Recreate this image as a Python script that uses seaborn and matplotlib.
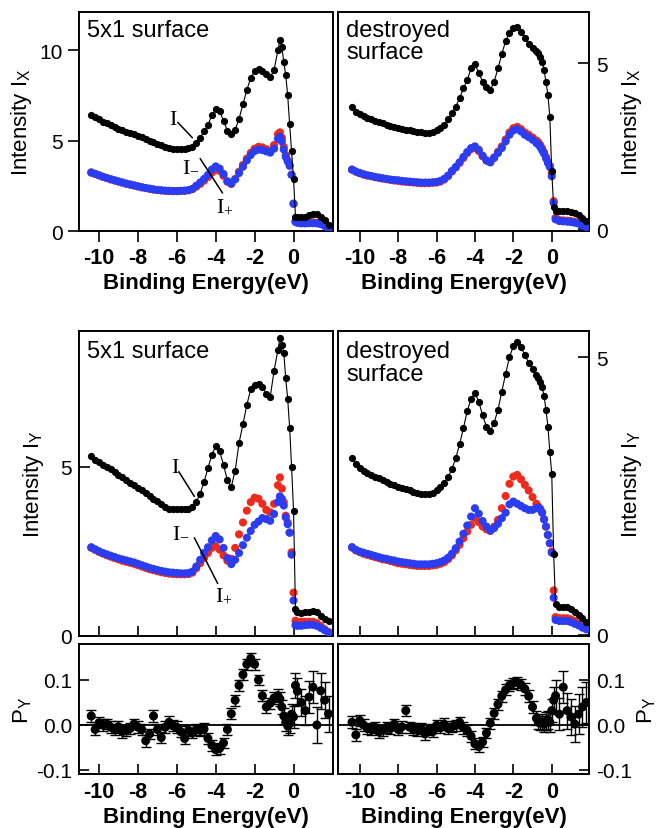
import numpy as np
import pandas as pd
import matplotlib
matplotlib.use("Agg")
import matplotlib.pyplot as plt
import seaborn as sns

# ---------------- data ----------------
E = [-10.4, -10.2, -10.0, -9.8, -9.6, -9.4, -9.2, -9.0, -8.8, -8.6,
     -8.4, -8.2, -8.0, -7.8, -7.6, -7.4, -7.2, -7.0, -6.8, -6.6,
     -6.4, -6.2, -6.0, -5.8, -5.6, -5.4, -5.2, -5.0, -4.8, -4.6,
     -4.4, -4.2, -4.0, -3.8, -3.6, -3.4, -3.2, -3.0, -2.8, -2.6,
     -2.4, -2.2, -2.0, -1.8, -1.6, -1.4, -1.2, -1.0, -0.8,
     -0.7, -0.6, -0.5, -0.4, -0.3, -0.2, -0.1, 0.0, 0.1, 0.2,
     0.4, 0.6, 0.8, 1.0, 1.2, 1.4, 1.6, 1.8]

# top-left: 5x1 surface, I_X
x51_I = [6.42, 6.30, 6.17, 6.05, 5.95, 5.85, 5.75, 5.65, 5.57, 5.49,
         5.42, 5.35, 5.27, 5.18, 5.10, 5.00, 4.92, 4.83, 4.74, 4.66,
         4.58, 4.55, 4.53, 4.53, 4.55, 4.58, 4.65, 4.85, 5.15, 5.50,
         5.85, 6.40, 6.72, 6.62, 6.10, 5.55, 5.35, 5.60, 6.20, 7.00,
         7.80, 8.45, 8.85, 8.95, 8.85, 8.65, 8.50, 8.90, 10.00,
         10.55, 10.15, 9.35, 8.60, 7.50, 5.90, 4.40, 2.90, 0.80, 0.75,
         0.75, 0.80, 0.88, 0.95, 0.95, 0.80, 0.60, 0.35]
x51_Im = [3.22, 3.15, 3.07, 2.99, 2.92, 2.85, 2.79, 2.73, 2.67, 2.61,
          2.56, 2.51, 2.46, 2.41, 2.37, 2.33, 2.29, 2.26, 2.24, 2.22,
          2.21, 2.20, 2.20, 2.21, 2.22, 2.25, 2.31, 2.45, 2.60, 2.78,
          2.98, 3.22, 3.38, 3.32, 3.05, 2.72, 2.60, 2.88, 3.28, 3.65,
          4.00, 4.32, 4.55, 4.65, 4.62, 4.52, 4.42, 4.75, 5.35,
          5.45, 5.15, 4.65, 4.20, 3.90, 3.65, 3.12, 1.52, 0.55, 0.50,
          0.48, 0.48, 0.48, 0.48, 0.46, 0.40, 0.30, 0.17]
x51_Ip = [3.24, 3.16, 3.08, 3.00, 2.93, 2.86, 2.80, 2.74, 2.68, 2.62,
          2.57, 2.52, 2.47, 2.42, 2.38, 2.34, 2.30, 2.27, 2.25, 2.23,
          2.22, 2.21, 2.21, 2.22, 2.23, 2.26, 2.33, 2.50, 2.68, 2.88,
          3.10, 3.40, 3.57, 3.45, 3.15, 2.75, 2.62, 2.85, 3.20, 3.55,
          3.90, 4.20, 4.42, 4.50, 4.47, 4.40, 4.33, 4.55, 5.10,
          5.20, 4.95, 4.50, 4.10, 3.85, 3.60, 3.10, 1.50, 0.50, 0.45,
          0.42, 0.42, 0.43, 0.43, 0.42, 0.38, 0.28, 0.15]

# top-right: destroyed surface, I_X
xd_I = [3.68, 3.55, 3.47, 3.42, 3.37, 3.32, 3.28, 3.24, 3.20, 3.15,
        3.12, 3.09, 3.06, 3.03, 3.00, 2.98, 2.96, 2.94, 2.93, 2.91,
        2.91, 2.93, 2.98, 3.05, 3.15, 3.32, 3.50, 3.70, 3.95, 4.25,
        4.50, 4.85, 4.98, 4.72, 4.45, 4.28, 4.20, 4.45, 4.85, 5.28,
        5.68, 5.93, 6.06, 6.10, 5.95, 5.78, 5.58, 5.48, 5.38,
        5.30, 5.20, 5.05, 4.80, 4.45, 4.05, 3.40, 1.75, 0.66, 0.56,
        0.55, 0.55, 0.55, 0.52, 0.48, 0.42, 0.35, 0.25]
xd_Im = [1.80, 1.74, 1.69, 1.65, 1.62, 1.60, 1.57, 1.55, 1.53, 1.51,
         1.49, 1.47, 1.46, 1.44, 1.43, 1.42, 1.41, 1.40, 1.39, 1.39,
         1.39, 1.40, 1.41, 1.44, 1.50, 1.60, 1.74, 1.86, 2.00, 2.15,
         2.30, 2.42, 2.45, 2.36, 2.20, 2.07, 2.02, 2.17, 2.34, 2.50,
         2.71, 2.92, 3.05, 3.09, 3.02, 2.92, 2.85, 2.77, 2.68,
         2.62, 2.54, 2.44, 2.32, 2.18, 2.04, 1.92, 1.70, 0.85, 0.35,
         0.28, 0.27, 0.26, 0.25, 0.23, 0.19, 0.14, 0.08]
xd_Ip = [1.80, 1.74, 1.70, 1.66, 1.63, 1.61, 1.58, 1.56, 1.54, 1.52,
         1.50, 1.49, 1.48, 1.46, 1.45, 1.44, 1.43, 1.42, 1.41, 1.41,
         1.41, 1.42, 1.43, 1.46, 1.52, 1.62, 1.76, 1.88, 2.02, 2.18,
         2.33, 2.45, 2.50, 2.40, 2.22, 2.08, 2.02, 2.15, 2.30, 2.45,
         2.65, 2.85, 2.98, 3.02, 2.95, 2.85, 2.78, 2.70, 2.60,
         2.56, 2.48, 2.38, 2.28, 2.14, 2.00, 1.88, 1.60, 0.80, 0.30,
         0.25, 0.24, 0.23, 0.22, 0.20, 0.17, 0.12, 0.07]

# middle-left: 5x1 surface, I_Y
y51_I = [5.30, 5.20, 5.12, 5.04, 4.98, 4.92, 4.84, 4.76, 4.68, 4.60,
         4.52, 4.45, 4.37, 4.30, 4.22, 4.14, 4.05, 3.98, 3.90, 3.82,
         3.76, 3.74, 3.74, 3.74, 3.75, 3.76, 3.80, 3.95, 4.20, 4.55,
         4.95, 5.35, 5.60, 5.45, 5.05, 4.60, 4.40, 4.88, 5.70, 6.25,
         6.82, 7.28, 7.42, 7.45, 7.35, 7.15, 7.05, 7.82, 8.45,
         8.78, 8.60, 8.35, 7.60, 7.00, 6.15, 5.00, 3.70, 0.80, 0.70,
         0.68, 0.70, 0.72, 0.75, 0.72, 0.60, 0.50, 0.45]
y51_Im = [2.60, 2.54, 2.48, 2.43, 2.38, 2.34, 2.30, 2.26, 2.22, 2.19,
          2.16, 2.13, 2.09, 2.05, 2.01, 1.97, 1.94, 1.91, 1.88, 1.86,
          1.84, 1.83, 1.82, 1.82, 1.82, 1.83, 1.87, 2.00, 2.15, 2.30,
          2.45, 2.60, 2.65, 2.55, 2.38, 2.22, 2.28, 2.60, 3.00, 3.35,
          3.70, 3.95, 4.08, 4.05, 3.90, 3.72, 3.65, 3.90, 4.45,
          4.68, 4.35, 3.95, 3.55, 3.35, 3.05, 2.47, 1.28, 0.45, 0.42,
          0.42, 0.42, 0.42, 0.42, 0.38, 0.30, 0.20, 0.12]
y51_Ip = [2.62, 2.56, 2.50, 2.45, 2.41, 2.37, 2.33, 2.29, 2.26, 2.23,
          2.20, 2.17, 2.13, 2.09, 2.05, 2.01, 1.98, 1.95, 1.92, 1.90,
          1.88, 1.87, 1.86, 1.85, 1.85, 1.86, 1.90, 2.05, 2.25, 2.45,
          2.62, 2.82, 2.95, 2.85, 2.60, 2.30, 2.12, 2.25, 2.45, 2.68,
          2.90, 3.10, 3.28, 3.38, 3.48, 3.45, 3.40, 3.60, 3.95,
          4.12, 4.05, 3.85, 3.50, 3.30, 3.05, 2.40, 1.05, 0.32, 0.30,
          0.30, 0.32, 0.33, 0.33, 0.30, 0.24, 0.17, 0.10]

# middle-right: destroyed surface, I_Y
yd_I = [3.18, 3.08, 3.00, 2.95, 2.92, 2.88, 2.85, 2.82, 2.78, 2.75,
        2.72, 2.70, 2.67, 2.64, 2.62, 2.60, 2.58, 2.56, 2.54, 2.53,
        2.54, 2.56, 2.60, 2.66, 2.74, 2.84, 2.98, 3.18, 3.43, 3.72,
        4.03, 4.25, 4.35, 4.20, 3.95, 3.75, 3.67, 3.82, 4.05, 4.38,
        4.70, 5.00, 5.20, 5.28, 5.18, 5.04, 4.90, 4.78, 4.68,
        4.62, 4.56, 4.47, 4.30, 4.05, 3.75, 3.30, 2.90, 1.45, 0.55,
        0.50, 0.50, 0.50, 0.47, 0.42, 0.36, 0.30, 0.24]
yd_Im = [1.57, 1.52, 1.49, 1.46, 1.44, 1.42, 1.40, 1.38, 1.36, 1.35,
         1.33, 1.31, 1.29, 1.28, 1.27, 1.26, 1.25, 1.24, 1.24, 1.24,
         1.24, 1.25, 1.26, 1.28, 1.31, 1.36, 1.43, 1.52, 1.62, 1.74,
         1.86, 1.98, 2.10, 2.03, 1.95, 1.90, 1.87, 1.95, 2.07, 2.28,
         2.50, 2.72, 2.85, 2.88, 2.80, 2.70, 2.60, 2.48, 2.36,
         2.31, 2.27, 2.20, 2.08, 1.95, 1.80, 1.65, 1.50, 0.80, 0.32,
         0.30, 0.30, 0.30, 0.28, 0.25, 0.20, 0.15, 0.11]
yd_Ip = [1.58, 1.53, 1.50, 1.48, 1.46, 1.44, 1.42, 1.40, 1.38, 1.37,
         1.35, 1.34, 1.32, 1.31, 1.30, 1.29, 1.28, 1.27, 1.27, 1.27,
         1.27, 1.28, 1.29, 1.31, 1.34, 1.39, 1.46, 1.56, 1.68, 1.82,
         1.97, 2.13, 2.28, 2.18, 2.05, 1.95, 1.88, 1.92, 2.00, 2.10,
         2.20, 2.35, 2.40, 2.36, 2.32, 2.28, 2.25, 2.25, 2.28,
         2.29, 2.26, 2.20, 2.08, 1.95, 1.80, 1.65, 1.48, 0.67, 0.27,
         0.25, 0.25, 0.25, 0.23, 0.20, 0.17, 0.13, 0.10]

# bottom: polarization P_Y with error bars
p51 = [0.020, -0.010, 0.005, 0.000, 0.002, -0.005, -0.010, -0.004, -0.015, -0.012,
       -0.008, 0.002, -0.005, -0.010, -0.035, -0.020, 0.020, -0.010, -0.028, -0.005,
       0.006, -0.002, -0.005, -0.015, -0.030, -0.012, -0.018, -0.010, -0.012, -0.009,
       -0.030, -0.045, -0.055, -0.052, -0.040, -0.010, 0.025, 0.055, 0.088, 0.112,
       0.135, 0.148, 0.135, 0.100, 0.065, 0.040, 0.048, 0.060, 0.065,
       0.058, 0.040, 0.020, 0.006, -0.002, 0.003, 0.024, 0.018, 0.088, 0.075,
       0.050, 0.032, 0.062, 0.084, 0.000, 0.076, 0.055, 0.025]
e51 = [0.013, 0.013, 0.012, 0.013, 0.012, 0.013, 0.012, 0.013, 0.013, 0.012,
       0.013, 0.012, 0.013, 0.013, 0.013, 0.012, 0.013, 0.013, 0.012, 0.013,
       0.013, 0.012, 0.013, 0.012, 0.013, 0.013, 0.012, 0.013, 0.012, 0.013,
       0.012, 0.012, 0.012, 0.012, 0.012, 0.012, 0.012, 0.012, 0.012, 0.012,
       0.012, 0.012, 0.012, 0.012, 0.012, 0.013, 0.013, 0.014, 0.015,
       0.015, 0.016, 0.018, 0.020, 0.020, 0.020, 0.022, 0.025, 0.028, 0.030,
       0.030, 0.032, 0.035, 0.035, 0.040, 0.040, 0.040, 0.040]
pd_ = [0.006, -0.022, 0.010, 0.000, -0.008, -0.010, -0.005, -0.016, -0.012, -0.005,
       -0.008, 0.002, -0.010, -0.004, 0.032, -0.005, -0.009, -0.012, -0.008, -0.020,
       -0.010, -0.015, -0.001, -0.006, 0.002, -0.008, -0.004, -0.001, 0.006, -0.006,
       -0.012, -0.025, -0.042, -0.048, -0.038, -0.018, 0.004, 0.026, 0.046, 0.064,
       0.078, 0.088, 0.093, 0.095, 0.090, 0.080, 0.064, 0.040, 0.015,
       0.006, 0.004, 0.006, 0.002, 0.008, 0.012, 0.006, 0.032, 0.055, 0.065,
       0.024, 0.084, 0.032, 0.018, 0.002, 0.024, 0.040, 0.050]
ed_ = [0.013, 0.013, 0.012, 0.013, 0.012, 0.013, 0.012, 0.013, 0.013, 0.012,
       0.013, 0.012, 0.013, 0.013, 0.013, 0.012, 0.013, 0.013, 0.012, 0.013,
       0.013, 0.012, 0.013, 0.012, 0.013, 0.013, 0.012, 0.013, 0.012, 0.013,
       0.012, 0.012, 0.012, 0.012, 0.012, 0.012, 0.012, 0.012, 0.012, 0.012,
       0.012, 0.012, 0.012, 0.012, 0.012, 0.013, 0.013, 0.014, 0.015,
       0.015, 0.016, 0.018, 0.018, 0.020, 0.020, 0.022, 0.025, 0.030, 0.035,
       0.035, 0.035, 0.040, 0.040, 0.040, 0.045, 0.045, 0.045]

XTICKS = [-10, -8, -6, -4, -2, 0]
XTICK_LABELS = ['-10', '-8', '-6', '-4', '-2', '0']
PTICKS = [-0.1, 0.0, 0.1]
PTICK_LABELS = ['-0.1', '0.0', '0.1']

# ---------------- style ----------------
sns.set_theme(style="ticks")
plt.rcParams['font.family'] = ['Liberation Sans', 'DejaVu Sans']
plt.rcParams['axes.unicode_minus'] = False
plt.rcParams['mathtext.fontset'] = 'custom'
plt.rcParams['mathtext.rm'] = 'Liberation Serif'
plt.rcParams['mathtext.sf'] = 'Liberation Sans'
plt.rcParams['mathtext.it'] = 'Liberation Serif:italic'
plt.rcParams['axes.linewidth'] = 1.4
plt.rcParams['axes.edgecolor'] = 'black'
plt.rcParams['text.color'] = 'black'
plt.rcParams['axes.labelcolor'] = 'black'
plt.rcParams['xtick.color'] = 'black'
plt.rcParams['ytick.color'] = 'black'
plt.rcParams['xtick.labelcolor'] = 'black'
plt.rcParams['ytick.labelcolor'] = 'black'

RED = '#ee2a1c'
BLUE = '#2b3df2'
FS_TICK = 15
FS_XTICK = 15.5
FS_LAB = 16
FS_TXT = 17

W, H = 657, 829
fig = plt.figure(figsize=(W / 100, H / 100), dpi=100)


def box(x0, y0, x1, y1):
    return [x0 / W, 1 - y1 / H, (x1 - x0) / W, (y1 - y0) / H]


ax_tl = fig.add_axes(box(79, 13, 333, 232))
ax_tr = fig.add_axes(box(338, 13, 589, 232))
ax_ml = fig.add_axes(box(79, 332, 333, 637))
ax_mr = fig.add_axes(box(338, 332, 589, 637))
ax_bl = fig.add_axes(box(79, 645, 333, 775))
ax_br = fig.add_axes(box(338, 645, 589, 775))

for a in fig.axes:
    for s in a.spines.values():
        s.set_visible(True)
        s.set_linewidth(1.4)
        s.set_color('black')
    a.set_facecolor('white')


def intensity(ax, I, Im, Ip):
    df = pd.DataFrame({'E': E, 'I': I, 'Im': Im, 'Ip': Ip})
    sns.scatterplot(data=df, x='E', y='Im', ax=ax, color=RED, s=34,
                    edgecolor='none', linewidth=0, zorder=2)
    sns.scatterplot(data=df, x='E', y='Ip', ax=ax, color=BLUE, s=34,
                    edgecolor='none', linewidth=0, zorder=3)
    sns.lineplot(data=df, x='E', y='I', ax=ax, color='black', lw=0.8,
                 marker='o', markersize=5.2, markeredgewidth=0,
                 estimator=None, sort=False, zorder=4)
    ax.set_xlabel('')
    ax.set_ylabel('')


def polar(ax, P, err):
    df = pd.DataFrame({'E': E, 'P': P, 'err': err})
    ax.axhline(0, color='black', lw=1.3, zorder=1)
    ax.errorbar(df['E'], df['P'], yerr=df['err'], fmt='none', ecolor='black',
                elinewidth=1.0, capsize=3.5, capthick=1.0, zorder=2)
    sns.scatterplot(data=df, x='E', y='P', ax=ax, color='black', s=42,
                    edgecolor='none', linewidth=0, zorder=3)
    ax.set_xlabel('')
    ax.set_ylabel('')


intensity(ax_tl, x51_I, x51_Im, x51_Ip)
intensity(ax_tr, xd_I, xd_Im, xd_Ip)
intensity(ax_ml, y51_I, y51_Im, y51_Ip)
intensity(ax_mr, yd_I, yd_Im, yd_Ip)
polar(ax_bl, p51, e51)
polar(ax_br, pd_, ed_)

XL_LEFT = (-11.03, 2.03)
XL_RIGHT = (-11.13, 1.94)
for a in (ax_tl, ax_ml, ax_bl):
    a.set_xlim(*XL_LEFT)
for a in (ax_tr, ax_mr, ax_br):
    a.set_xlim(*XL_RIGHT)
for a in fig.axes:
    a.set_xticks(XTICKS)

ax_tl.set_ylim(0, 12.1)
ax_tr.set_ylim(-0.05, 6.55)
ax_ml.set_ylim(0, 9.0)
ax_mr.set_ylim(-0.02, 5.47)
ax_bl.set_ylim(-0.109, 0.18)
ax_br.set_ylim(-0.109, 0.18)

ax_tl.set_yticks([0, 5, 10])
ax_tr.set_yticks([0, 5])
ax_ml.set_yticks([0, 5])
ax_mr.set_yticks([0, 5])
for a in (ax_bl, ax_br):
    a.set_yticks(PTICKS)
    a.set_yticklabels(PTICK_LABELS)

# right-hand axes
for a in (ax_tr, ax_mr, ax_br):
    a.yaxis.tick_right()
    a.yaxis.set_label_position('right')

# tick directions
ax_tl.tick_params(axis='both', direction='out', length=8, width=1.2,
                  labelsize=FS_TICK, colors='black')
ax_tr.tick_params(axis='x', direction='out', length=8, width=1.2,
                  labelsize=FS_TICK, colors='black')
ax_tr.tick_params(axis='y', direction='in', length=8, width=1.2,
                  labelsize=FS_TICK, colors='black', pad=5)
for a in (ax_ml, ax_mr):
    a.tick_params(axis='x', direction='in', length=7, width=1.2,
                  labelbottom=False, colors='black')
    a.tick_params(axis='y', direction='in', length=8, width=1.2,
                  labelsize=FS_TICK, colors='black', pad=5)
for a in (ax_bl, ax_br):
    a.tick_params(axis='both', direction='in', length=7, width=1.2,
                  labelsize=FS_TICK, colors='black', pad=5)

for a in (ax_tl, ax_tr, ax_bl, ax_br):
    a.set_xticklabels(XTICK_LABELS, fontweight='bold', fontsize=FS_XTICK,
                      color='black')
    a.set_xlabel('Binding Energy(eV)', fontweight='bold', fontsize=FS_LAB,
                 labelpad=3, color='black')

ax_tl.set_ylabel(r'Intensity $\mathsf{I}_\mathsf{X}$', fontsize=FS_LAB, labelpad=4)
ax_tr.set_ylabel(r'Intensity $\mathsf{I}_\mathsf{X}$', fontsize=FS_LAB, labelpad=8)
ax_ml.set_ylabel(r'Intensity $\mathsf{I}_\mathsf{Y}$', fontsize=FS_LAB, labelpad=10)
ax_mr.set_ylabel(r'Intensity $\mathsf{I}_\mathsf{Y}$', fontsize=FS_LAB, labelpad=8)
ax_bl.set_ylabel(r'$\mathsf{P}_\mathsf{Y}$', fontsize=FS_LAB, labelpad=2)
ax_br.set_ylabel(r'$\mathsf{P}_\mathsf{Y}$', fontsize=FS_LAB, labelpad=2)

# panel titles
for a in (ax_tl, ax_ml):
    a.text(0.033, 0.97, '5x1 surface', transform=a.transAxes, ha='left',
           va='top', fontsize=FS_TXT, color='black')
for a in (ax_tr, ax_mr):
    a.text(0.033, 0.97, 'destroyed\nsurface', transform=a.transAxes,
           ha='left', va='top', fontsize=FS_TXT, linespacing=1.05,
           color='black')

# curve labels with leader lines
LBL = dict(fontsize=16, color='black')
line = dict(arrowstyle='-', lw=1.1, color='black', shrinkA=0, shrinkB=0)
# top-left
ax_tl.text(-6.2, 6.2, r'$\mathrm{I}$', ha='center', va='center', **LBL)
ax_tl.annotate('', xy=(-5.2, 5.15), xytext=(-5.95, 6.0), arrowprops=line)
ax_tl.text(-5.3, 3.65, r'$\mathrm{I}_{-}$', ha='center', va='center', **LBL)
ax_tl.annotate('', xy=(-3.65, 2.1), xytext=(-4.8, 4.0), arrowprops=line)
ax_tl.text(-3.55, 1.45, r'$\mathrm{I}_{+}$', ha='center', va='center', **LBL)
# middle-left
ax_ml.text(-6.1, 5.0, r'$\mathrm{I}$', ha='center', va='center', **LBL)
ax_ml.annotate('', xy=(-5.1, 4.12), xytext=(-5.9, 4.85), arrowprops=line)
ax_ml.text(-5.8, 3.12, r'$\mathrm{I}_{-}$', ha='center', va='center', **LBL)
ax_ml.annotate('', xy=(-3.9, 1.55), xytext=(-5.1, 2.9), arrowprops=line)
ax_ml.text(-3.6, 1.25, r'$\mathrm{I}_{+}$', ha='center', va='center', **LBL)

fig.savefig('out.png', dpi=100, facecolor='white')
